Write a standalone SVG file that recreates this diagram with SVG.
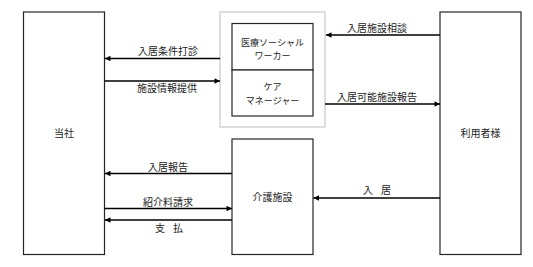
<svg xmlns="http://www.w3.org/2000/svg" width="533" height="267" viewBox="0 0 533 267">
<defs>
<style>
.box{fill:#fff;stroke:#262626;stroke-width:1.2}
.outer{fill:#fff;stroke:#c8c8c8;stroke-width:1.2}
.conn{stroke:#000;stroke-width:1.4;fill:none}
text{font-family:"Noto Sans CJK JP","Noto Sans",sans-serif;font-size:10px;fill:#222;text-anchor:middle}
.small{font-size:9px}
.sp{word-spacing:6px}
</style>
<marker id="ah" viewBox="0 0 10 10" refX="10" refY="5" markerWidth="6" markerHeight="5.5" orient="auto" markerUnits="userSpaceOnUse">
<path d="M0,0 L10,5 L0,10 Z" fill="#000"/>
</marker>
</defs>
<rect width="533" height="267" fill="#fff"/>
<g id="touhsa">
<rect class="box" x="23.5" y="12" width="81" height="242.5"/>
<text x="64" y="137">当社</text>
</g>
<g id="riyousha">
<rect class="box" x="440" y="12" width="81" height="242.5"/>
<text x="480.5" y="137">利用者様</text>
</g>
<g id="group">
<rect class="outer" x="220" y="12" width="105" height="115"/>
</g>
<g id="msw">
<rect class="box" x="232" y="23.5" width="81" height="46.5"/>
<text class="small" x="272.5" y="45.5">医療ソーシャル</text>
<text class="small" x="272.5" y="58.5">ワーカー</text>
</g>
<g id="cm">
<rect class="box" x="232" y="70" width="81" height="46"/>
<text class="small" x="272.5" y="90">ケア</text>
<text class="small" x="272.5" y="104">マネージャー</text>
</g>
<g id="kaigo">
<rect class="box" x="232" y="139" width="81" height="115.5"/>
<text x="272.5" y="201">介護施設</text>
</g>
<g id="connectors">
<line class="conn" x1="220" y1="58.5" x2="105" y2="58.5" marker-end="url(#ah)"/>
<line class="conn" x1="104.5" y1="81" x2="220" y2="81" marker-end="url(#ah)"/>
<line class="conn" x1="440" y1="35" x2="326" y2="35" marker-end="url(#ah)"/>
<line class="conn" x1="325" y1="104" x2="440" y2="104" marker-end="url(#ah)"/>
<line class="conn" x1="232" y1="173.5" x2="105" y2="173.5" marker-end="url(#ah)"/>
<line class="conn" x1="104.5" y1="208.5" x2="232" y2="208.5" marker-end="url(#ah)"/>
<line class="conn" x1="232" y1="220" x2="105" y2="220" marker-end="url(#ah)"/>
<line class="conn" x1="440" y1="198" x2="313.5" y2="198" marker-end="url(#ah)"/>
<text x="168" y="55">入居条件打診</text>
<text x="167" y="92">施設情報提供</text>
<text x="377" y="32">入居施設相談</text>
<text x="377" y="101">入居可能施設報告</text>
<text x="168" y="171">入居報告</text>
<text x="168" y="206">紹介料請求</text>
<text class="sp" x="169" y="232">支 払</text>
<text class="sp" x="377" y="194">入 居</text>
</g>
</svg>
